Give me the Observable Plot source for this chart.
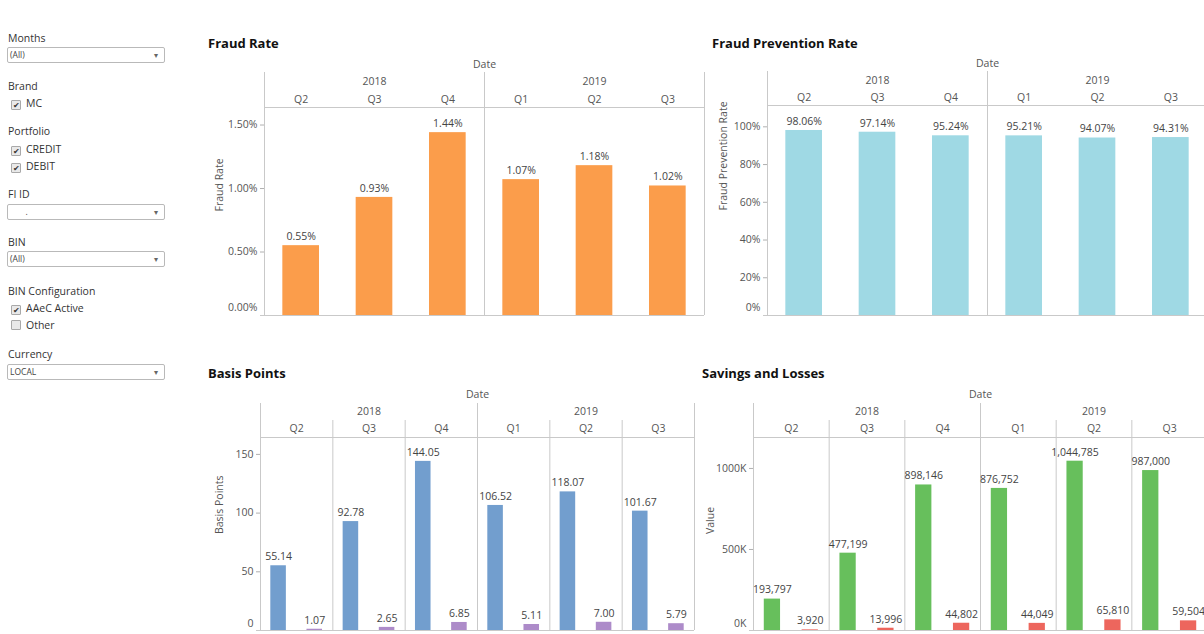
<!DOCTYPE html>
<html>
<head>
<meta charset="utf-8">
<script src="https://cdn.jsdelivr.net/npm/d3@7"></script>
<script src="https://cdn.jsdelivr.net/npm/@observablehq/plot@0.6"></script>
<style>
  html, body { margin: 0; padding: 0; background: #fff; }
  body { width: 1204px; height: 634px; overflow: hidden; position: relative; font-family: "Open Sans", sans-serif; color: #333; }
  .title { position: absolute; font-weight: 700; font-size: 13px; line-height: 16px; color: #111; white-space: nowrap; }
  .flt { position: absolute; left: 8px; font-size: 10.5px; line-height: 14px; color: #333; white-space: nowrap; }
  .dd { position: absolute; left: 7px; width: 154px; height: 14px; border: 1px solid #b9b9b9; border-radius: 2px; font-size: 8.5px; line-height: 14px; color: #444; padding-left: 2px; box-sizing: content-box; }
  .dd .arr { position: absolute; right: 6px; top: 0; font-size: 8px; color: #666; }
  .cb { position: absolute; left: 11px; font-size: 10.5px; line-height: 14px; color: #333; white-space: nowrap; }
  .cb .box { display: inline-block; width: 8px; height: 8px; border: 1px solid #a9a9a9; background: #e9e9e9; border-radius: 1px; vertical-align: -1px; margin-right: 5px; font-size: 8px; line-height: 8px; text-align: center; color: #333; }
  .chart { position: absolute; }
  .chart svg { max-width: none; display: block; }
</style>
</head>
<body>
<!-- filter panel -->
<div class="flt" style="top:31px">Months</div>
<div class="dd" style="top:47px">(All)<span class="arr">&#9662;</span></div>
<div class="flt" style="top:79px">Brand</div>
<div class="cb" style="top:96px"><span class="box">&#10004;</span>MC</div>
<div class="flt" style="top:124px">Portfolio</div>
<div class="cb" style="top:142px"><span class="box">&#10004;</span>CREDIT</div>
<div class="cb" style="top:159px"><span class="box">&#10004;</span>DEBIT</div>
<div class="flt" style="top:187px">FI ID</div>
<div class="dd" style="top:204px">&nbsp;&nbsp;&nbsp;&nbsp;&nbsp;&nbsp;&nbsp;.<span class="arr">&#9662;</span></div>
<div class="flt" style="top:235px">BIN</div>
<div class="dd" style="top:251px">(All)<span class="arr">&#9662;</span></div>
<div class="flt" style="top:284px">BIN Configuration</div>
<div class="cb" style="top:301px"><span class="box">&#10004;</span>AAeC Active</div>
<div class="cb" style="top:318px"><span class="box"></span>Other</div>
<div class="flt" style="top:347px">Currency</div>
<div class="dd" style="top:364px">LOCAL<span class="arr">&#9662;</span></div>

<div class="title" style="left:208px;top:35px">Fraud Rate</div>
<div class="title" style="left:712px;top:35px">Fraud Prevention Rate</div>
<div class="title" style="left:208px;top:365px">Basis Points</div>
<div class="title" style="left:702px;top:365px">Savings and Losses</div>

<div id="c1" class="chart" style="left:196px;top:52px"></div>
<div id="c2" class="chart" style="left:708px;top:52px"></div>
<div id="c3" class="chart" style="left:196px;top:382px"></div>
<div id="c4" class="chart" style="left:698px;top:382px"></div>

<script>
// ---------- data ----------
const years = ["2018", "2019"];
const quarterYears = ["2018", "2018", "2018", "2019", "2019", "2019"];
const quarterLabels = ["Q2", "Q3", "Q4", "Q1", "Q2", "Q3"];

const fraudRate = [0.55, 0.93, 1.44, 1.07, 1.18, 1.02];               // %
const fraudPreventionRate = [98.06, 97.14, 95.24, 95.21, 94.07, 94.31]; // %
const basisPointsFraud = [55.14, 92.78, 144.05, 106.52, 118.07, 101.67];
const basisPointsLoss = [1.07, 2.65, 6.85, 5.11, 7.00, 5.79];
const savingsValues = [193797, 477199, 898146, 876752, 1044785, 987000];
const lossValues = [3920, 13996, 44802, 44049, 65810, 59504];

const fraudRateTicks = [0, 0.5, 1.0, 1.5];
const fraudPreventionTicks = [0, 20, 40, 60, 80, 100];
const basisTicks = [0, 50, 100, 150];
const savingsTicks = [0, 500000, 1000000];

const fraudRateMax = 1.638;
const fraudPreventionMax = 111.3;
const basisMax = 164.4;
const savingsMax = 1191000;

// ---------- helpers ----------
const keys = quarterLabels.map((q, i) => quarterYears[i] + " " + q);
const LINE = "#c9c9c9";
const FONT = "'Open Sans', sans-serif";
const yearStartKeys = years.map(y => keys[quarterYears.indexOf(y)]);
const yearMid = years.map(y => {
  const ks = keys.filter((k, i) => quarterYears[i] === y);
  return {year: y, key: ks[Math.floor(ks.length / 2)]};
});

function topChart(o) {
  const W = o.width - o.ml - o.mr;
  const step = W / keys.length;
  const data = keys.map((k, i) => ({key: k, value: o.values[i]}));
  return Plot.plot({
    width: o.width, height: o.height,
    marginLeft: o.ml, marginRight: o.mr, marginTop: o.mt, marginBottom: o.mb,
    style: {fontFamily: FONT, fontSize: "10.5px", color: "#555", background: "transparent", overflow: "visible"},
    x: {type: "band", domain: keys, paddingInner: 0.5, paddingOuter: 0.25, round: false, axis: null},
    y: {domain: [0, o.yMax], axis: null},
    marks: [
      Plot.ruleY([o.yMax], {stroke: LINE}),
      Plot.ruleX(yearStartKeys, {x: d => d, dx: -step / 2, insetTop: o.sepInset, stroke: LINE}),
      Plot.ruleX([keys[keys.length - 1]], {x: d => d, dx: step / 2, insetTop: o.sepInset, stroke: LINE}),
      Plot.barY(data, {x: "key", y: "value", fill: o.color}),
      Plot.ruleY([0], {insetLeft: -4, stroke: LINE}),
      Plot.text(data, {x: "key", y: "value", text: d => o.fmt(d.value), dy: -9, fill: "#444"}),
      Plot.text(keys, {x: d => d, text: (d, i) => quarterLabels[i], frameAnchor: "top", lineAnchor: "middle", dy: o.hq, fill: "#555"}),
      Plot.text(yearMid, {x: "key", text: "year", frameAnchor: "top", lineAnchor: "middle", dy: o.hy, fill: "#555"}),
      Plot.text(["Date"], {text: d => d, frameAnchor: "top", lineAnchor: "middle", dy: o.hd, fill: "#555"}),
      Plot.axisY({ticks: o.ticks.filter(t => t !== 0), tickFormat: o.tickFmt, tickSize: 4, tickPadding: 3, stroke: "#b0b0b0", fill: "#555", label: null}),
      Plot.text([0], {y: d => d, frameAnchor: "left", dx: -7, dy: -8, textAnchor: "end", text: d => o.tickFmt(d), fill: "#555"}),
      Plot.text([o.yLabel], {text: d => d, frameAnchor: "left", lineAnchor: "middle", dx: o.labelDx, rotate: -90, fill: "#555"})
    ]
  });
}

function bottomChart(o) {
  const W = o.width - o.ml - o.mr;
  const keys2 = keys.flatMap(k => [k + "|a", k + "|b"]);
  const step = W / keys2.length;
  const dataA = keys.map((k, i) => ({key: k + "|a", value: o.a[i]}));
  const dataB = keys.map((k, i) => ({key: k + "|b", value: o.b[i]}));
  const innerStarts = keys.filter(k => !yearStartKeys.includes(k)).map(k => k + "|a");
  return Plot.plot({
    width: o.width, height: o.height,
    marginLeft: o.ml, marginRight: o.mr, marginTop: o.mt, marginBottom: o.mb,
    style: {fontFamily: FONT, fontSize: "10.5px", color: "#555", background: "transparent", overflow: "visible"},
    x: {type: "band", domain: keys2, paddingInner: 0.57, paddingOuter: 0.285, round: false, axis: null},
    y: {domain: [0, o.yMax], axis: null},
    marks: [
      Plot.ruleY([o.yMax], {stroke: LINE}),
      Plot.ruleX(innerStarts, {x: d => d, dx: -step / 2, insetTop: -17, stroke: LINE}),
      Plot.ruleX(yearStartKeys.map(k => k + "|a"), {x: d => d, dx: -step / 2, insetTop: -34, stroke: LINE}),
      Plot.ruleX([keys2[keys2.length - 1]], {x: d => d, dx: step / 2, insetTop: -34, stroke: LINE}),
      Plot.barY(dataA, {x: "key", y: "value", fill: o.colorA}),
      Plot.barY(dataB, {x: "key", y: "value", fill: o.colorB}),
      Plot.ruleY([0], {insetLeft: -4, stroke: LINE}),
      Plot.text(dataA, {x: "key", y: "value", text: d => o.fmt(d.value), dy: -9, fill: "#444"}),
      Plot.text(dataB, {x: "key", y: "value", text: d => o.fmt(d.value), dy: -9, fill: "#444"}),
      Plot.text(keys, {x: d => d + "|a", dx: step / 2, text: (d, i) => quarterLabels[i], frameAnchor: "top", lineAnchor: "middle", dy: -8.5, fill: "#555"}),
      Plot.text(yearMid, {x: d => d.key + "|a", dx: step / 2, text: "year", frameAnchor: "top", lineAnchor: "middle", dy: -25.5, fill: "#555"}),
      Plot.text(["Date"], {text: d => d, frameAnchor: "top", lineAnchor: "middle", dy: -43, fill: "#555"}),
      Plot.axisY({ticks: o.ticks.filter(t => t !== 0), tickFormat: o.tickFmt, tickSize: 4, tickPadding: 3, stroke: "#b0b0b0", fill: "#555", label: null}),
      Plot.text([0], {y: d => d, frameAnchor: "left", dx: -7, dy: -7, textAnchor: "end", text: d => o.tickFmt(d), fill: "#555"}),
      Plot.text([o.yLabel], {text: d => d, frameAnchor: "left", lineAnchor: "middle", dx: o.labelDx, rotate: -90, fill: "#555"})
    ]
  });
}

const pct2 = v => v.toFixed(2) + "%";

document.getElementById("c1").append(topChart({
  values: fraudRate, color: "#fb9d4b", fmt: pct2,
  yMax: fraudRateMax, ticks: fraudRateTicks, tickFmt: v => v.toFixed(2) + "%",
  yLabel: "Fraud Rate", labelDx: -45,
  width: 512, height: 268, ml: 68, mr: 4, mt: 55, mb: 5,
  hq: -8, hy: -26, hd: -43, sepInset: -35
}));

document.getElementById("c2").append(topChart({
  values: fraudPreventionRate, color: "#9fd9e4", fmt: pct2,
  yMax: fraudPreventionMax, ticks: fraudPreventionTicks, tickFmt: v => v + "%",
  yLabel: "Fraud Prevention Rate", labelDx: -44,
  width: 501, height: 268, ml: 59, mr: 2, mt: 53, mb: 5,
  hq: -8, hy: -25, hd: -42, sepInset: -34
}));

document.getElementById("c3").append(bottomChart({
  a: basisPointsFraud, b: basisPointsLoss, colorA: "#729ece", colorB: "#ad8bc9",
  fmt: v => v.toFixed(2),
  yMax: basisMax, ticks: basisTicks, tickFmt: v => String(v),
  yLabel: "Basis Points", labelDx: -41,
  width: 502, height: 252, ml: 64, mr: 4, mt: 55, mb: 4
}));

document.getElementById("c4").append(bottomChart({
  a: savingsValues, b: lossValues, colorA: "#67bf5c", colorB: "#ed665d",
  fmt: d3.format(","),
  yMax: savingsMax, ticks: savingsTicks, tickFmt: v => (v / 1000) + "K",
  yLabel: "Value", labelDx: -43,
  width: 511, height: 252, ml: 55, mr: 2, mt: 55, mb: 4
}));
</script>
</body>
</html>
